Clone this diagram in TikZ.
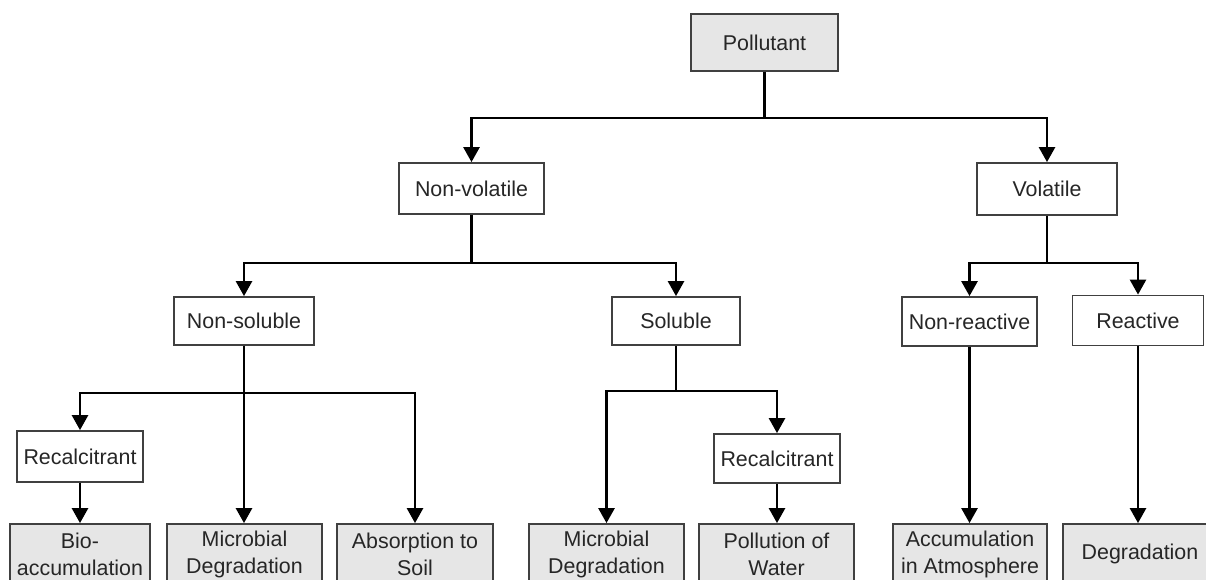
\documentclass[tikz,border=0pt]{standalone}
\usepackage{fontspec}
\setmainfont{Liberation Sans}
\usetikzlibrary{arrows.meta}
\definecolor{boxline}{HTML}{404040}
\definecolor{boxfill}{HTML}{E6E6E6}
\definecolor{txt}{HTML}{262626}
\tikzset{
  base/.style={draw=boxline, line width=1.8pt, rectangle, inner sep=0pt, align=center,
    text=txt, font=\fontsize{21.4}{27}\selectfont},
  wbox/.style={base, fill=white},
  gbox/.style={base, fill=boxfill},
  arr/.style={line width=2.6pt, black, -{Triangle[length=15pt,width=16pt]}},
}
\begin{document}
\begin{tikzpicture}[x=1pt,y=-1pt]
\useasboundingbox (0,0) rectangle (1206,579);
\clip (0,0) rectangle (1206,579);
% nodes
\node[gbox, minimum width=147pt, minimum height=57pt] (pol) at (764.5,42.5) {Pollutant};
\node[wbox, minimum width=145pt, minimum height=51pt] (nv) at (471.5,188.5) {Non-volatile};
\node[wbox, minimum width=140pt, minimum height=52pt] (vol) at (1047,189) {Volatile};
\node[wbox, minimum width=140pt, minimum height=48pt] (ns) at (244,321) {Non-soluble};
\node[wbox, minimum width=128pt, minimum height=48pt] (sol) at (676,321) {Soluble};
\node[wbox, minimum width=135pt, minimum height=49pt] (nr) at (969.5,321.5) {Non-reactive};
\node[wbox, minimum width=131pt, minimum height=50pt] (re) at (1138,320.5) {Reactive};
\node[wbox, minimum width=126pt, minimum height=51pt] (rc1) at (80,456.5) {Recalcitrant};
\node[wbox, minimum width=126pt, minimum height=49pt] (rc2) at (777,458.5) {Recalcitrant};
\node[gbox, minimum width=140pt, minimum height=60pt] (bio) at (80,554) {Bio-\\accumulation};
\node[gbox, minimum width=155pt, minimum height=60pt] (mic1) at (244.5,554) {Microbial\\Degradation};
\node[gbox, minimum width=156pt, minimum height=60pt] (abs) at (415,554) {Absorption to\\Soil};
\node[gbox, minimum width=155pt, minimum height=60pt] (mic2) at (606.5,554) {Microbial\\Degradation};
\node[gbox, minimum width=155pt, minimum height=60pt] (pow) at (776.5,554) {Pollution of\\Water};
\node[gbox, minimum width=154pt, minimum height=60pt] (acc) at (970,554) {Accumulation\\in Atmosphere};
\node[gbox, minimum width=154pt, minimum height=60pt] (deg) at (1140,554) {Degradation};
% connectors
\draw[arr] (pol.south) -- ++(0,46) -| (nv.north);
\draw[arr] (pol.south) -- ++(0,46) -| (vol.north);
\draw[arr] (nv.south) -- ++(0,48) -| (ns.north);
\draw[arr] (nv.south) -- ++(0,48) -| (sol.north);
\draw[arr] (vol.south) -- ++(0,47) -| (nr.north);
\draw[arr] (vol.south) -- ++(0,47) -| (re.north);
\draw[arr] (ns.south) -- ++(0,47) -| (rc1.north);
\draw[arr] (ns.south) -- ++(0,47) -| (abs.north);
\draw[arr] (ns.south) -- (ns.south |- mic1.north);
\draw[arr] (sol.south) -- ++(0,45) -| (mic2.north);
\draw[arr] (sol.south) -- ++(0,45) -| (rc2.north);
\draw[arr] (rc1.south) -- (rc1.south |- bio.north);
\draw[arr] (rc2.south) -- (rc2.south |- pow.north);
\draw[arr] (nr.south) -- (nr.south |- acc.north);
\draw[arr] (re.south) -- (re.south |- deg.north);
\end{tikzpicture}
\end{document}
